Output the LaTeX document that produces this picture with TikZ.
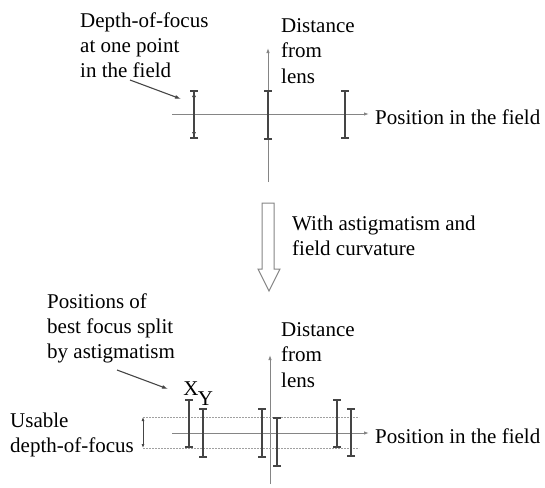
\documentclass[tikz,border=0pt]{standalone}
\usepackage{fontspec}
\setmainfont{Liberation Serif}
\newfontfamily\timesfont{Liberation Serif}
\usetikzlibrary{arrows.meta}
\definecolor{axisgray}{HTML}{858585}
\definecolor{bargray}{HTML}{454545}
\definecolor{dotgray}{HTML}{A0A0A0}
\tikzset{
  lbl/.style={inner sep=0pt, align=left, font=\timesfont\fontsize{21}{25.2}\selectfont},
  axis/.style={draw=axisgray, line width=0.9pt, -{Latex[length=5pt,width=3.5pt]}},
  focusbar/.style={draw=bargray, line width=2pt, {Bar[width=8pt,line width=2pt]}-{Bar[width=8pt,line width=2pt]}},
  inarrow/.style={draw=bargray, line width=1pt, {Latex[length=5pt,width=4pt]}-{Latex[length=5pt,width=4pt]}},
  pointer/.style={draw=bargray, line width=1.1pt, -{Latex[length=6pt,width=4pt]}},
  limit/.style={draw=dotgray, line width=0.8pt, dash pattern=on 2pt off 1pt},
  hollow/.style={draw=axisgray, line width=1pt, fill=white}
}
\begin{document}
\begin{tikzpicture}[x=1pt,y=-1pt]
\useasboundingbox (0,0) rectangle (545,487);

% ---- upper diagram: no aberration ----
\coordinate (vtopT) at (268,48);
\coordinate (vtopB) at (268,182);
\coordinate (htopL) at (172,114);
\coordinate (htopR) at (369,114);
\draw[axis] (vtopB) -- (vtopT);
\draw[axis] (htopL) -- (htopR);

\coordinate (a1t) at (194,90);  \coordinate (a1b) at (194,139);
\coordinate (a2t) at (268,90);  \coordinate (a2b) at (268,140);
\coordinate (a3t) at (345,90);  \coordinate (a3b) at (345,139);
\draw[focusbar] (a1t) -- (a1b);
\draw[inarrow] ([yshift=-2pt]a1t) -- ([yshift=2pt]a1b);
\draw[focusbar] (a2t) -- (a2b);
\draw[focusbar] (a3t) -- (a3b);

\node[lbl, anchor=north west] (dof) at (80,12.5) {Depth-of-focus\\at one point\\in the field};
\coordinate (dofsrc) at (130,80);
\coordinate (doftip) at (181,99);
\draw[pointer] (dofsrc) -- (doftip);

\node[lbl, anchor=north west] (dist1) at (281,18.5) {Distance\\from\\lens};
\node[lbl, anchor=base west] (pos1) at (375,124) {Position in the field};

% ---- transition arrow ----
\draw[hollow] (262,203) -- (274,203) -- (274,269) -- (280,269) -- (269,291) -- (258,269) -- (262,269) -- cycle;
\node[lbl, anchor=north west] (trans) at (292,215.5) {With astigmatism and\\field curvature};

% ---- lower diagram: astigmatism and field curvature ----
\coordinate (vbotT) at (270,355);
\coordinate (vbotB) at (270,484);
\coordinate (hbotL) at (172,433);
\coordinate (hbotR) at (369,433);
\draw[axis] (vbotB) -- (vbotT);
\draw[axis] (hbotL) -- (hbotR);

\coordinate (limTL) at (143,417); \coordinate (limTR) at (359,417);
\coordinate (limBL) at (143,448); \coordinate (limBR) at (359,448);
\draw[limit] (limTL) -- (limTR);
\draw[limit] (limBL) -- (limBR);
\draw[draw=bargray, line width=0.8pt, {Latex[length=4pt,width=3pt]}-{Latex[length=4pt,width=3pt]}] (limTL) -- (limBL);

\coordinate (b1t) at (189,399); \coordinate (b1b) at (189,448);
\coordinate (b2t) at (203,408); \coordinate (b2b) at (203,458);
\coordinate (b3t) at (262,408); \coordinate (b3b) at (262,458);
\coordinate (b4t) at (277,417); \coordinate (b4b) at (277,467);
\coordinate (b5t) at (337,399); \coordinate (b5b) at (337,448);
\coordinate (b6t) at (351,408); \coordinate (b6b) at (351,457);
\foreach \b in {1,...,6} {\draw[focusbar] (b\b t) -- (b\b b);}

\node[lbl, anchor=base] (xlbl) at (191,395) {X};
\node[lbl, anchor=base] (ylbl) at (205.5,405) {Y};

\node[lbl, anchor=north west] (best) at (47,293.5) {Positions of\\best focus split\\by astigmatism};
\coordinate (bestsrc) at (117,370);
\coordinate (besttip) at (168,389);
\draw[pointer] (bestsrc) -- (besttip);

\node[lbl, anchor=north west] (usable) at (10,412.5) {Usable\\depth-of-focus};
\node[lbl, anchor=north west] (dist2) at (281,322.5) {Distance\\from\\lens};
\node[lbl, anchor=base west] (pos2) at (375,443) {Position in the field};
\end{tikzpicture}
\end{document}
